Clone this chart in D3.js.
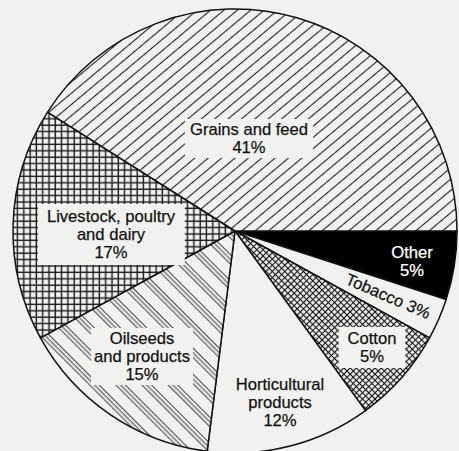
<!DOCTYPE html>
<html>
<head>
<meta charset="utf-8">
<script src="https://cdn.jsdelivr.net/npm/d3@7/dist/d3.min.js"></script>
<style>
  html, body { margin: 0; padding: 0; background: #f1f1ef; }
  svg { display: block; }
  text { font-family: "Liberation Sans", Arial, Helvetica, sans-serif; font-size: 16.6px; }
</style>
</head>
<body>
<svg id="chart" width="459" height="451"></svg>
<script>
// ---- data (slice shares as drawn, printed labels) ----
const categories = ["Other", "Tobacco", "Cotton", "Horticultural products", "Oilseeds and products", "Livestock, poultry and dairy", "Grains and feed"];
const shares = [5, 3, 7, 12, 15, 17, 41];          // angular share as measured in the picture
const printedPct = ["5%", "3%", "5%", "12%", "15%", "17%", "41%"];
const labelLines = [
  ["Other", "5%"],
  ["Tobacco 3%"],
  ["Cotton", "5%"],
  ["Horticultural", "products", "12%"],
  ["Oilseeds", "and products", "15%"],
  ["Livestock, poultry", "and dairy", "17%"],
  ["Grains and feed", "41%"]
];

// ---- layout / style ----
const W = 459, H = 451;
const cx = 235, cy = 231, R = 222;
const bg = "#f1f1ef";
const fills = ["#000", bg, "url(#p-cotton)", bg, "url(#p-oil)", "url(#p-grid)", "url(#p-grain)"];
// label anchor offsets from the centre (x of line centre, y of first baseline)
const labelOffset = [[177, 27], [153, 65], [137, 113], [45, 159], [-93, 113], [-124, -9], [14, -96]];
const labelPad = [null, null, [9, 2], null, [3, 1], [9, 3], [5, 1]];
const labelColor = ["#fff", "#111", "#111", "#111", "#111", "#111", "#111"];
const lineH = 18;

const svg = d3.select("#chart");
svg.append("rect").attr("width", W).attr("height", H).attr("fill", bg);

const defs = svg.append("defs");
// Grains: single lines rising to the right
const pg = defs.append("pattern").attr("id", "p-grain").attr("patternUnits", "userSpaceOnUse")
  .attr("width", 20).attr("height", 8.6).attr("patternTransform", "rotate(-40)");
pg.append("rect").attr("width", 20).attr("height", 8.6).attr("fill", bg);
pg.append("line").attr("x1", 0).attr("x2", 20).attr("y1", 4.3).attr("y2", 4.3)
  .attr("stroke", "#222").attr("stroke-width", 1.1);
// Livestock: square grid
const pq = defs.append("pattern").attr("id", "p-grid").attr("patternUnits", "userSpaceOnUse")
  .attr("width", 6.3).attr("height", 6.4);
pq.append("rect").attr("width", 6.3).attr("height", 6.4).attr("fill", bg);
pq.append("line").attr("x1", 3).attr("x2", 3).attr("y1", 0).attr("y2", 6.4).attr("stroke", "#1a1a1a").attr("stroke-width", 1.4);
pq.append("line").attr("x1", 0).attr("x2", 6.3).attr("y1", 3).attr("y2", 3).attr("stroke", "#1a1a1a").attr("stroke-width", 1.4);
// Oilseeds: groups of three lines falling to the right
const po = defs.append("pattern").attr("id", "p-oil").attr("patternUnits", "userSpaceOnUse")
  .attr("width", 30).attr("height", 18.5).attr("patternTransform", "rotate(45)");
po.append("rect").attr("width", 30).attr("height", 18.5).attr("fill", bg);
[1.5, 4.8, 8.1].forEach(y => po.append("line").attr("x1", 0).attr("x2", 30).attr("y1", y).attr("y2", y)
  .attr("stroke", "#2a2a2a").attr("stroke-width", 0.9));
// Cotton: fine diagonal cross-hatch
const pc = defs.append("pattern").attr("id", "p-cotton").attr("patternUnits", "userSpaceOnUse")
  .attr("width", 4.4).attr("height", 4.4).attr("patternTransform", "rotate(45)");
pc.append("rect").attr("width", 4.4).attr("height", 4.4).attr("fill", bg);
pc.append("line").attr("x1", 2.2).attr("x2", 2.2).attr("y1", 0).attr("y2", 4.4).attr("stroke", "#111").attr("stroke-width", 1.1);
pc.append("line").attr("x1", 0).attr("x2", 4.4).attr("y1", 2.2).attr("y2", 2.2).attr("stroke", "#111").attr("stroke-width", 1.1);

const pie = d3.pie().sort(null).value(d => d)
  .startAngle(Math.PI / 2).endAngle(Math.PI / 2 + 2 * Math.PI);
const arcs = pie(shares);
const arc = d3.arc().innerRadius(0).outerRadius(R);

const g = svg.append("g").attr("transform", `translate(${cx},${cy})`);
g.selectAll("path.slice").data(arcs).join("path")
  .attr("class", "slice")
  .attr("d", arc)
  .attr("fill", (d, i) => fills[i])
  .attr("stroke", "#111").attr("stroke-width", 1.5).attr("stroke-linejoin", "round");

// labels
arcs.forEach((a, i) => {
  const [ox, oy] = labelOffset[i];
  const lg = g.append("g").attr("class", "label");
  if (i === 1) {
    const midDeg = ((a.startAngle + a.endAngle) / 2) * 180 / Math.PI - 90;
    lg.attr("transform", `translate(${ox},${oy}) rotate(${midDeg})`);
    lg.append("text").attr("text-anchor", "middle").attr("dy", "0.35em")
      .attr("fill", labelColor[i]).attr("stroke", labelColor[i]).attr("stroke-width", 0.25)
      .text(labelLines[i][0]);
    return;
  }
  const t = lg.append("text").attr("text-anchor", "middle").attr("fill", labelColor[i])
    .attr("stroke", labelColor[i]).attr("stroke-width", 0.25);
  labelLines[i].forEach((s, k) => {
    t.append("tspan").attr("x", ox).attr("y", oy + k * lineH).text(s);
  });
  if (labelPad[i]) {
    const bb = t.node().getBBox();
    const [px, py] = labelPad[i];
    lg.insert("rect", "text")
      .attr("x", bb.x - px).attr("y", bb.y - py)
      .attr("width", bb.width + 2 * px).attr("height", bb.height + 2 * py)
      .attr("fill", bg);
  }
});
</script>
</body>
</html>
